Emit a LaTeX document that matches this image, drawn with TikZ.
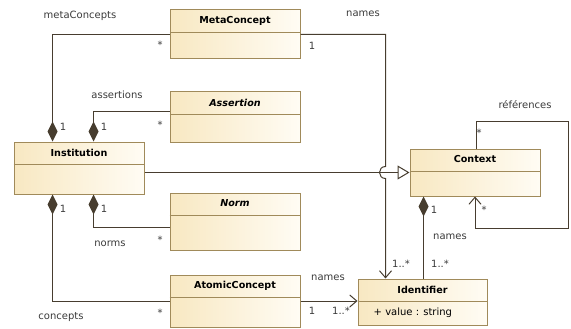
\documentclass[tikz,border=0pt]{standalone}
\usepackage{fontspec}
\setmainfont{DejaVu Sans}
\usetikzlibrary{arrows.meta,calc}

\definecolor{clsborder}{HTML}{A08A5A}
\definecolor{clsleft}{HTML}{F8E8C2}
\definecolor{clsright}{HTML}{FFFCF4}
\definecolor{linkcol}{HTML}{473D2F}
\definecolor{labelcol}{HTML}{3A3A3A}

\tikzset{
  umlclass/.style={rectangle, draw=clsborder, line width=1pt, inner sep=0pt,
    left color=clsleft, right color=clsright, minimum width=130pt},
  divider/.style={draw=clsborder, line width=0.8pt},
  clsname/.style={font=\fontsize{9.6}{11}\selectfont\bfseries, text=black, inner sep=0pt},
  absname/.style={clsname, font=\fontsize{9.6}{11}\selectfont\bfseries\itshape},
  attr/.style={font=\fontsize{10}{12}\selectfont, text=black, inner sep=0pt, anchor=west},
  rolelabel/.style={font=\fontsize{10}{12}\selectfont, text=labelcol, inner sep=0pt},
  link/.style={draw=linkcol, line width=1pt},
  compo/.style={link, {Diamond[length=20pt,width=10pt,fill=linkcol]}-},
  navig/.style={link, -{Straight Barb[length=7pt,width=12pt]}},
  generalize/.style={link, -{Triangle[open,length=12pt,width=14pt,fill=white]}},
}

\begin{document}
\begin{tikzpicture}[x=1pt,y=-1pt]
\useasboundingbox (0,0) rectangle (571,329);

% ---------- classes ----------
\node[umlclass, minimum height=49pt] (meta)   at (235,34.5)  {};
\node[umlclass, minimum height=50pt] (assert) at (235,117)   {};
\node[umlclass, minimum height=52pt] (inst)   at (79,168)    {};
\node[umlclass, minimum height=57pt] (norm)   at (235,221.5) {};
\node[umlclass, minimum height=52pt] (atomic) at (235,301)   {};
\node[umlclass, minimum height=47pt] (ctx)    at (475,172.5) {};
\node[umlclass, minimum height=46pt, minimum width=129pt] (ident) at (422.5,302) {};

% header compartments
\foreach \c/\t/\s in {meta/MetaConcept/clsname, assert/Assertion/absname,
                      inst/Institution/clsname, norm/Norm/absname,
                      atomic/AtomicConcept/clsname, ctx/Context/clsname,
                      ident/Identifier/clsname}{
  \node[\s] at ($(\c.north)+(0,11)$) {\t};
  \draw[divider] ($(\c.north west)+(0,22.5)$) -- ($(\c.north east)+(0,22.5)$);
}
\node[attr] at ($(ident.north west)+(16,34)$) {+ value : string};

% ---------- compositions of Institution ----------
\coordinate (instTL) at ($(inst.north west)+(39,0)$);
\coordinate (instTR) at ($(inst.north west)+(80,0)$);
\coordinate (instBL) at ($(inst.south west)+(39,0)$);
\coordinate (instBR) at ($(inst.south west)+(80,0)$);

\draw[compo] (instTL) |- (meta.west);
\draw[compo] (instTR) |- ($(assert.north west)+(0,20)$);
\draw[compo] (instBR) |- ($(norm.north west)+(0,35)$);
\draw[compo] (instBL) |- (atomic.west);

% ---------- generalization ----------
\draw[generalize] (inst.east |- ctx.west) -- (ctx.west);

% ---------- MetaConcept names -> Identifier (hops over the generalization) ----------
\coordinate (hopx) at ($(ident.north west)+(28,0)$);
\coordinate (hop) at (hopx |- ctx.west);
\draw[navig] (meta.east) -| ([yshift=6pt]hop)
  .. controls ([xshift=-8pt,yshift=6pt]hop) and ([xshift=-8pt,yshift=-6pt]hop) .. ([yshift=-6pt]hop)
  -- (hopx);

% ---------- AtomicConcept names -> Identifier ----------
\draw[navig] (atomic.east) -- (atomic.east -| ident.west);

% ---------- Context names (composition) ----------
\coordinate (ctxBL) at ($(ctx.south west)+(14,0)$);
\draw[compo] (ctxBL) -- (ctxBL |- ident.north);

% ---------- Context self reference ----------
\coordinate (loopTR) at (568,122);
\coordinate (loopBR) at (568,228);
\draw[navig] ([xshift=1.5pt]ctx.north) |- (loopTR) -- (loopBR) -| (ctx.south);

% ---------- role names and multiplicities ----------
\node[rolelabel] at (80,16)   {metaConcepts};
\node[rolelabel] at (160,45)  {*};
\node[rolelabel] at (63,127)  {1};
\node[rolelabel] at (117,95)  {assertions};
\node[rolelabel] at (160,125) {*};
\node[rolelabel] at (104,127) {1};
\node[rolelabel] at (63,209)  {1};
\node[rolelabel] at (104,209) {1};
\node[rolelabel] at (110,244) {norms};
\node[rolelabel] at (160,240) {*};
\node[rolelabel] at (61,317)  {concepts};
\node[rolelabel] at (160,313) {*};

\node[rolelabel] at (363,14)  {names};
\node[rolelabel] at (312,46)  {1};
\node[rolelabel] at (401,264) {1..*};

\node[rolelabel] at (328,278) {names};
\node[rolelabel] at (312,311) {1};
\node[rolelabel] at (341,311) {1..*};

\node[rolelabel] at (434,210) {1};
\node[rolelabel] at (450,237) {names};
\node[rolelabel] at (440,264) {1..*};

\node[rolelabel] at (525,105) {références};
\node[rolelabel] at (479,133) {*};
\node[rolelabel] at (484,210) {*};
\end{tikzpicture}
\end{document}
